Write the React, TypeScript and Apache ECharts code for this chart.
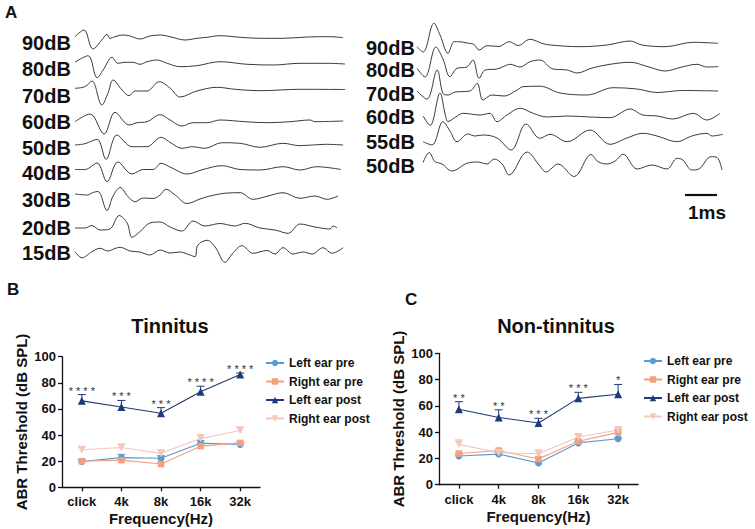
import React, { useEffect, useRef } from "react";
import * as echarts from "echarts";

const FONT = '"Liberation Sans", Arial, Helvetica, sans-serif';

// ---------- Panel A: ABR waveforms, [time (ms), amplitude (a.u.)] ----------
const LEFT_LEVELS = ["90dB", "80dB", "70dB", "60dB", "50dB", "40dB", "30dB", "20dB", "15dB"];
const RIGHT_LEVELS = ["90dB", "80dB", "70dB", "60dB", "55dB", "50dB"];

const L90 = [[0,0.6],[0.28,7.3],[0.56,-11.7],[0.84,-2.7],[1.0,3],[1.09,-1],[1.25,0.6],[1.5,2.3],[1.72,1.3],[2.03,-1.7],[2.34,1.3],[2.66,2.3],[2.97,0.6],[3.44,-2.7],[3.81,-1],[4.13,0],[4.53,1.6],[5.16,0],[5.78,-1],[6.5,-1],[7.25,0.3],[7.97,0.6],[8.38,-0.4]];
const L80 = [[0,1],[0.41,7.6],[0.69,-14.4],[0.88,-6.7],[1.16,6],[1.34,0],[1.56,1],[1.81,1],[2.03,-1],[2.25,1.6],[2.56,3.3],[2.88,0],[3.28,-3.4],[3.81,-2.4],[4.53,1.6],[5.38,-1],[6.19,-1.7],[7.03,0],[7.88,0],[8.44,-0.7]];
const L70 = [[0,1],[0.31,2.6],[0.53,8.3],[0.84,-15.7],[1.03,-4],[1.19,9.3],[1.47,-0.7],[1.69,-6.4],[1.88,-1.7],[2.25,-1.7],[2.63,7.6],[2.97,1.3],[3.28,-7.7],[3.81,-1.7],[4.44,2],[5.0,0],[5.78,-1.4],[7.03,0],[8.44,-0.2]];
const L60 = [[0,0],[0.47,7.7],[0.91,-12.3],[1.25,9.4],[1.69,-3.3],[1.94,-1],[2.25,0],[2.66,7],[2.97,1.7],[3.34,-4.3],[3.69,-1],[4.13,-1],[4.53,1.7],[5.31,0],[6.0,-1],[6.72,0],[7.34,1.7],[7.5,0],[8.38,0.7]];
const L50 = [[0,0],[0.31,1.3],[0.69,5.7],[0.97,-14.3],[1.31,10],[1.78,-1.7],[2.25,-1.7],[2.69,7.7],[3.0,2],[3.34,-3.3],[3.66,-1.7],[4.06,-3.3],[4.59,2.3],[5.16,1.7],[5.78,-2.3],[6.5,1.7],[7.03,-0.7],[7.81,0.7],[8.38,0]];
const L40 = [[0,0],[0.31,0],[0.69,6.5],[1.0,-12.2],[1.34,7.5],[1.78,-4.5],[2.13,0],[2.44,0],[2.69,6.2],[3.0,2],[3.5,-4.5],[4.0,0],[4.59,3.8],[5.16,0],[5.78,-0.5],[6.5,2.8],[7.03,-0.5],[7.56,2.8],[8.31,0]];
const L30 = [[0,2],[0.38,1],[0.56,3.5],[0.72,4.5],[1.0,-14.5],[1.19,0],[1.41,8.5],[1.66,-0.7],[1.88,-5.7],[2.13,-2],[2.44,-2.5],[2.66,1],[2.84,6.8],[3.13,1],[3.5,-7.5],[3.91,-3],[4.22,0],[4.69,2.8],[5.16,3.3],[5.56,-3.3],[6.03,0],[6.5,3.3],[7.03,-2.3],[7.5,0],[7.88,-3.3],[8.22,0]];
const L20 = [[0,0],[0.31,0],[0.53,2.5],[0.78,-2],[1.09,-1],[1.38,12.5],[1.63,5],[1.78,-9.3],[2.03,-3.7],[2.34,5],[2.66,6],[2.97,1],[3.34,-3],[3.69,7],[4.06,2],[4.53,4.5],[5.0,2],[5.31,4.7],[5.78,0],[6.25,-2],[6.66,-5.3],[7.03,4],[7.5,1],[7.97,-1],[8.06,2],[8.19,0]];
const L15 = [[0,0.3],[0.22,-5.8],[0.53,0.3],[0.78,3.7],[1.03,1],[1.25,3.5],[1.41,4.7],[1.72,1],[2.03,0],[2.34,-3],[2.66,2],[2.97,-1],[3.28,0],[3.59,-3],[3.75,-4.7],[3.84,7],[4.13,11.7],[4.38,5],[4.69,-10.3],[4.91,-2],[5.22,6.3],[5.56,-1.3],[6.0,1.5],[6.25,-2],[6.5,4.3],[6.81,-2],[7.13,0],[7.41,-2],[7.75,4.3],[8.03,-1.3],[8.38,4.3]];

const R90 = [[0,-1.7],[0.19,-7],[0.53,21.7],[0.72,10],[0.97,-8.3],[1.16,3.3],[1.31,3.3],[1.56,2],[1.78,0.5],[1.94,-5],[2.19,-0.7],[2.56,-1.5],[2.88,3.3],[3.16,-0.5],[3.53,5.7],[3.94,1.3],[4.16,0],[5.09,-1.7],[5.94,0],[6.66,4],[7.03,0],[7.75,-1.7],[8.63,2.7],[9.41,1.7]];
const R80 = [[0,-1.3],[0.25,-10],[0.59,20],[0.81,8],[1.03,-9.7],[1.25,-1.3],[1.56,0],[1.75,7],[1.94,-11.3],[2.13,-3],[2.5,-2],[2.69,0.3],[2.91,2.7],[3.22,0],[3.53,5.3],[3.84,7],[4.25,-2],[4.69,-3],[5.0,-6],[5.47,-1],[6.03,2.7],[6.66,4.7],[7.25,0],[7.75,-4],[8.28,0],[8.75,2.7],[9.06,0],[9.41,0.3]];
const R70 = [[0,-1],[0.31,-9.2],[0.63,20],[0.81,-3.3],[0.97,-5],[1.19,-2],[1.34,-1.7],[1.66,-1],[1.88,6.7],[2.06,-10],[2.34,-5],[2.72,-6],[3.13,0],[3.31,3.3],[3.84,3.8],[4.47,-3],[5.31,-5],[6.13,2.3],[6.88,1],[7.5,-2.5],[8.28,-0.5],[9.41,-1]];
const R60 = [[0.19,0],[0.41,-9.5],[0.72,23],[0.88,2],[0.97,-5.5],[1.25,0],[1.44,2.7],[1.97,1],[2.28,2.7],[2.5,-5.7],[2.81,1],[3.22,7.7],[3.63,2.7],[4.06,-1],[4.69,0],[5.41,-1],[6.03,-1.7],[6.66,7],[7.06,1],[7.5,0],[8.0,-3],[8.63,2.7],[9.06,-4],[9.47,2.7]];
const R55 = [[0.19,-2.7],[0.47,-6],[0.81,17.3],[1.03,8],[1.25,-2.7],[1.59,5],[1.81,3],[2.06,4],[2.5,1],[2.94,-11],[3.41,15],[3.84,0.7],[4.16,4.7],[4.69,-2.7],[5.41,9],[6.03,-5.3],[6.56,1],[7.06,5.7],[7.5,3],[8.13,-2.7],[8.59,3],[9.06,5.7],[9.22,3],[9.56,4.7]];
const R50 = [[0.19,1.5],[0.38,11.5],[0.56,2.5],[0.78,0],[1.09,-7],[1.56,0.7],[1.88,2],[2.19,0],[2.41,5],[2.66,0],[2.88,-11],[3.44,12],[3.84,-2],[4.03,-8],[4.41,0],[4.91,-12.5],[5.44,9.5],[5.66,2.3],[5.94,0],[6.19,3],[6.44,9.7],[6.88,-5],[7.34,-1],[7.81,-5],[8.13,5.7],[8.31,4],[8.59,-6],[8.81,-5],[9.19,7.3],[9.38,6.5],[9.53,-6]];

const LEFT_WAVES = [L90, L80, L70, L60, L50, L40, L30, L20, L15];
const RIGHT_WAVES = [R90, R80, R70, R60, R55, R50];
const SCALE_BAR_MS = 1;

// ---------- Panels B / C: ABR thresholds (dB SPL), mean and SEM ----------
const CATEGORIES = ["click", "4k", "8k", "16k", "32k"];
const SERIES_NAMES = ["Left ear pre", "Right ear pre", "Left ear post", "Right ear post"];

const B_LEFT_PRE = [19.8, 22.7, 22.2, 33.8, 32.8];
const B_RIGHT_PRE = [20.0, 20.8, 17.8, 31.5, 34.0];
const B_LEFT_POST = [66.2, 61.5, 56.7, 73.2, 86.3];
const B_RIGHT_POST = [28.8, 30.5, 26.0, 37.3, 43.5];
const B_LEFT_PRE_SEM = [1.5, 2.5, 2.0, 2.0, 1.0];
const B_RIGHT_PRE_SEM = [1.0, 1.0, 1.0, 1.5, 1.0];
const B_LEFT_POST_SEM = [4.8, 5.0, 4.3, 4.2, 1.2];
const B_RIGHT_POST_SEM = [2.0, 2.5, 2.5, 3.0, 2.5];
const B_STARS = ["****", "***", "***", "****", "****"];

const C_LEFT_PRE = [21.8, 23.3, 16.5, 31.8, 35.0];
const C_RIGHT_PRE = [23.7, 26.0, 19.5, 33.0, 39.8];
const C_LEFT_POST = [57.4, 51.2, 47.0, 65.7, 68.8];
const C_RIGHT_POST = [30.7, 24.3, 23.5, 36.3, 41.6];
const C_LEFT_PRE_SEM = [1.0, 1.0, 1.0, 1.0, 1.0];
const C_RIGHT_PRE_SEM = [1.0, 1.0, 1.5, 1.0, 2.0];
const C_LEFT_POST_SEM = [5.8, 5.8, 3.5, 4.6, 7.5];
const C_RIGHT_POST_SEM = [3.5, 1.5, 3.0, 1.5, 1.5];
const C_STARS = ["**", "**", "***", "***", "*"];

// ---------- styles / layout ----------
const COLORS = ["#5b9bd0", "#f2a080", "#1d3b78", "#f5c6ba"];
const SYMBOLS = ["circle", "rect", "triangle", "triangle"];
const SYMBOL_ROTATE = [0, 0, 0, 180];
const SYMBOL_SIZE = [7, 6.5, 8, 8];

const WAVE_TOP = 20;
const WAVE_HEIGHT = 250;
const PX_PER_MS = 32;
const LEFT_BASE_Y = [37.3, 63.3, 89.3, 121.7, 145, 169.5, 196, 228, 252];
const LEFT_LABEL_Y = [43, 69, 95.7, 121.7, 148.3, 173.3, 200, 227.7, 253.3];
const RIGHT_BASE_Y = [45, 67, 90, 116, 139, 164];
const RIGHT_LABEL_Y = [47.7, 70, 94, 117, 142, 166];

function waveSeries(waves: number[][][], baseY: number[], axis: number) {
  return waves.map((w, k) => ({
    type: "line",
    xAxisIndex: axis,
    yAxisIndex: axis,
    silent: true,
    showSymbol: false,
    smooth: 0.35,
    data: w.map(([t, a]) => [t, a - (baseY[k] - WAVE_TOP)]),
    lineStyle: { color: "#3a3a3a", width: 1 },
  }));
}

function thresholdSeries(axis: number, means: number[][], sems: number[][], stars: string[]) {
  const out: any[] = [];
  means.forEach((m, s) => {
    out.push({
      name: SERIES_NAMES[s],
      type: "line",
      xAxisIndex: axis,
      yAxisIndex: axis,
      data: m,
      symbol: SYMBOLS[s],
      symbolRotate: SYMBOL_ROTATE[s],
      symbolSize: SYMBOL_SIZE[s],
      itemStyle: { color: COLORS[s] },
      lineStyle: { color: COLORS[s], width: 1.1 },
      z: s === 2 ? 5 : 4,
    });
    out.push({
      type: "custom",
      xAxisIndex: axis,
      yAxisIndex: axis,
      silent: true,
      z: s === 2 ? 5 : 3,
      encode: { x: 0, y: 1 },
      data: m.map((v, i) => [i, v, sems[s][i]]),
      renderItem: (_p: any, api: any) => {
        const i = api.value(0);
        const v = api.value(1);
        const e = api.value(2);
        const p0 = api.coord([i, v]);
        const p1 = api.coord([i, v + e]);
        const st = { stroke: COLORS[s], lineWidth: 1 };
        return {
          type: "group",
          children: [
            { type: "line", shape: { x1: p0[0], y1: p0[1], x2: p1[0], y2: p1[1] }, style: st },
            { type: "line", shape: { x1: p1[0] - 4, y1: p1[1], x2: p1[0] + 4, y2: p1[1] }, style: st },
          ],
        };
      },
    });
  });
  // significance stars above the "Left ear post" error bars
  out.push({
    type: "custom",
    xAxisIndex: axis,
    yAxisIndex: axis,
    silent: true,
    z: 6,
    encode: { x: 0, y: 1 },
    data: means[2].map((v, i) => [i, v + sems[2][i]]),
    renderItem: (p: any, api: any) => {
      const pt = api.coord([api.value(0), api.value(1)]);
      return {
        type: "text",
        style: {
          text: stars[p.dataIndex].split("").join(" "),
          x: pt[0],
          y: pt[1] - 4,
          textAlign: "center",
          align: "center",
          textVerticalAlign: "middle",
          verticalAlign: "middle",
          font: `11px ${FONT}`,
          fill: "#333",
        },
      };
    },
  });
  return out;
}

function txt(text: string, x: number, y: number, size: number, align = "left", weight = "bold") {
  return {
    type: "text",
    silent: true,
    style: {
      text,
      x,
      y,
      font: `${weight} ${size}px ${FONT}`,
      fill: "#111",
      textAlign: align,
      align,
      textVerticalAlign: "middle",
      verticalAlign: "middle",
    },
  };
}

export default function App() {
  const ref = useRef<HTMLDivElement>(null);
  useEffect(() => {
    if (!ref.current) return;
    const chart = echarts.init(ref.current, null, { renderer: "svg" });

    const yBase = {
      type: "value",
      min: 0,
      max: 100,
      interval: 20,
      axisLine: { show: true, lineStyle: { color: "#111", width: 1.3 } },
      axisTick: { show: true, length: 4, lineStyle: { color: "#111", width: 1.3 } },
      axisLabel: { fontFamily: FONT, fontWeight: "bold", fontSize: 13, color: "#111", margin: 6 },
      splitLine: { show: false },
      name: "ABR Threshold (dB SPL)",
      nameLocation: "middle",
      nameGap: 33,
      nameTextStyle: { fontFamily: FONT, fontWeight: "bold", fontSize: 15, color: "#111" },
    };
    const xBase = {
      type: "category",
      data: CATEGORIES,
      boundaryGap: true,
      axisLine: { show: true, lineStyle: { color: "#111", width: 1.3 } },
      axisTick: { show: true, alignWithLabel: true, length: 4, lineStyle: { color: "#111", width: 1.3 } },
      axisLabel: { fontFamily: FONT, fontWeight: "bold", fontSize: 13, color: "#111", margin: 8 },
      name: "Frequency(Hz)",
      nameLocation: "middle",
      nameGap: 24,
      nameTextStyle: { fontFamily: FONT, fontWeight: "bold", fontSize: 15, color: "#111" },
    };
    const legendBase = {
      data: SERIES_NAMES,
      orient: "vertical",
      itemWidth: 18,
      itemHeight: 8,
      itemGap: 4.5,
      selectedMode: false,
      textStyle: { fontFamily: FONT, fontWeight: "bold", fontSize: 12, color: "#111", lineHeight: 14 },
    };

    const leftMax = 8.5;
    const rightMax = 9.6;

    const graphics: any[] = [
      txt("A", 5, 12.5, 17),
      txt("B", 7, 289, 17),
      txt("C", 405, 299, 17),
      txt("Tinnitus", 170, 326, 20, "center"),
      txt("Non-tinnitus", 556, 326, 20, "center"),
      txt(`${SCALE_BAR_MS}ms`, 707, 212, 19, "center"),
    ];
    LEFT_LEVELS.forEach((l, i) => graphics.push(txt(l, 22, LEFT_LABEL_Y[i], 20)));
    RIGHT_LEVELS.forEach((l, i) => graphics.push(txt(l, 366, RIGHT_LABEL_Y[i], 20)));

    const scaleStart = (685 - 417) / PX_PER_MS;
    const scaleY = -(195 - WAVE_TOP);

    chart.setOption({
      animation: false,
      backgroundColor: "#fff",
      grid: [
        { left: 75, top: WAVE_TOP, width: leftMax * PX_PER_MS, height: WAVE_HEIGHT },
        { left: 417, top: WAVE_TOP, width: rightMax * PX_PER_MS, height: WAVE_HEIGHT },
        { left: 62, top: 356.7, width: 198, height: 130.6 },
        { left: 439, top: 353.3, width: 199, height: 131.4 },
      ],
      xAxis: [
        { type: "value", gridIndex: 0, min: 0, max: leftMax, show: false },
        { type: "value", gridIndex: 1, min: 0, max: rightMax, show: false },
        { ...xBase, gridIndex: 2 },
        { ...xBase, gridIndex: 3 },
      ],
      yAxis: [
        { type: "value", gridIndex: 0, min: -WAVE_HEIGHT, max: 0, show: false },
        { type: "value", gridIndex: 1, min: -WAVE_HEIGHT, max: 0, show: false },
        { ...yBase, gridIndex: 2 },
        { ...yBase, gridIndex: 3 },
      ],
      legend: [
        { ...legendBase, left: 260, top: 351 },
        { ...legendBase, left: 638, top: 349 },
      ],
      graphic: graphics,
      series: [
        ...waveSeries(LEFT_WAVES, LEFT_BASE_Y, 0),
        ...waveSeries(RIGHT_WAVES, RIGHT_BASE_Y, 1),
        {
          type: "line",
          xAxisIndex: 1,
          yAxisIndex: 1,
          silent: true,
          showSymbol: false,
          data: [[scaleStart, scaleY], [scaleStart + SCALE_BAR_MS, scaleY]],
          lineStyle: { color: "#111", width: 2.2 },
        },
        ...thresholdSeries(
          2,
          [B_LEFT_PRE, B_RIGHT_PRE, B_LEFT_POST, B_RIGHT_POST],
          [B_LEFT_PRE_SEM, B_RIGHT_PRE_SEM, B_LEFT_POST_SEM, B_RIGHT_POST_SEM],
          B_STARS
        ),
        ...thresholdSeries(
          3,
          [C_LEFT_PRE, C_RIGHT_PRE, C_LEFT_POST, C_RIGHT_POST],
          [C_LEFT_PRE_SEM, C_RIGHT_PRE_SEM, C_LEFT_POST_SEM, C_RIGHT_POST_SEM],
          C_STARS
        ),
      ],
    });
    return () => chart.dispose();
  }, []);
  return (
    <div
      ref={ref}
      style={{ position: "absolute", left: 0, top: 0, width: 755, height: 529, background: "#fff" }}
    />
  );
}
